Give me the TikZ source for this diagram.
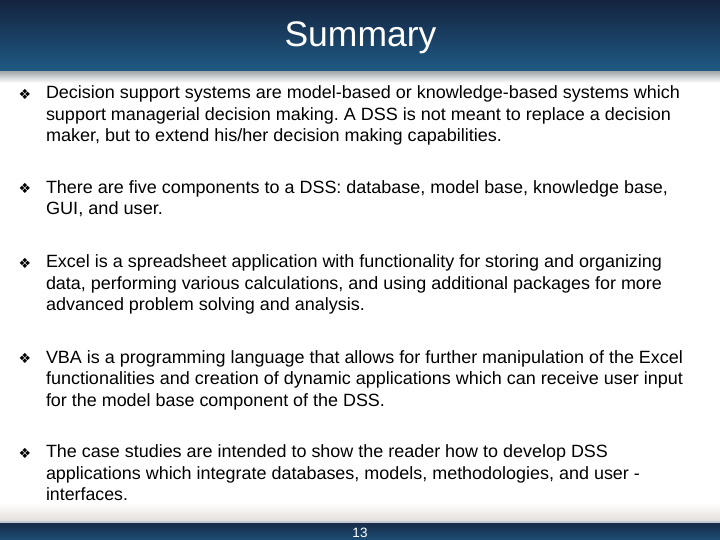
\documentclass[tikz,border=0pt]{standalone}
\usepackage{graphicx}
\usepackage{fontspec}
\setmainfont{Liberation Sans}
\newfontfamily\symfont{DejaVu Sans}
\definecolor{bandtop}{HTML}{14233F}
\definecolor{bandlow}{HTML}{1F5B85}
\definecolor{edgegray}{HTML}{A9ADB0}
\definecolor{footbeige}{HTML}{E3DFDB}
\definecolor{footline}{HTML}{C5CBD6}
\definecolor{foottop}{HTML}{182C48}
\definecolor{footlow}{HTML}{1C4E76}
\newcommand{\fitline}[2]{\resizebox{#1pt}{\height}{#2}}
\tikzset{
  x=1pt,y=-1pt,
  textline/.style={anchor=base west,inner sep=0pt,outer sep=0pt,
    font=\frenchspacing\fontsize{17.76}{21.5}\selectfont,text=black},
  bul/.style={anchor=center,inner sep=0pt,font=\symfont\fontsize{14}{14}\selectfont,text=black},
  band/.style={draw=none}
}
\begin{document}
\begin{tikzpicture}
\useasboundingbox (0,0) rectangle (720,540);
\fill[white] (0,0) rectangle (720,540);
\shade[band,top color=bandtop,bottom color=bandlow] (0,0) rectangle (720,72);
\shade[band,top color=edgegray,bottom color=white] (0,72) rectangle (720,83);
\shade[band,top color=white,bottom color=footbeige] (0,503) rectangle (720,521);
\fill[footline] (0,521) rectangle (720,523);
\shade[band,top color=foottop,bottom color=footlow] (0,523) rectangle (720,540);
\node[anchor=base,inner sep=0pt,text=white,font=\fontsize{35.5}{40}\selectfont] (title) at (360.5,47) {Summary};
\node[textline] (p1a) at (46,99) {\fitline{634}{Decision support systems are model-based or knowledge-based systems which}};
\node[textline] (p1b) at (46,120.5) {\fitline{625}{support managerial decision making. A DSS is not meant to replace a decision}};
\node[textline] (p1c) at (46,142) {\fitline{456}{maker, but to extend his/her decision making capabilities.}};
\node[textline] (p2a) at (46,193.5) {\fitline{622}{There are five components to a DSS: database, model base, knowledge base,}};
\node[textline] (p2b) at (46,215) {\fitline{117}{GUI, and user.}};
\node[textline] (p3a) at (46,267.5) {\fitline{616}{Excel is a spreadsheet application with functionality for storing and organizing}};
\node[textline] (p3b) at (46,289) {\fitline{616}{data, performing various calculations, and using additional packages for more}};
\node[textline] (p3c) at (46,310.5) {\fitline{319}{advanced problem solving and analysis.}};
\node[textline] (p4a) at (46,363) {\fitline{637}{VBA is a programming language that allows for further manipulation of the Excel}};
\node[textline] (p4b) at (46,384.5) {\fitline{637}{functionalities and creation of dynamic applications which can receive user input}};
\node[textline] (p4c) at (46,406) {\fitline{339}{for the model base component of the DSS.}};
\node[textline] (p5a) at (46,457.5) {\fitline{562}{The case studies are intended to show the reader how to develop DSS}};
\node[textline] (p5b) at (46,479) {\fitline{594}{applications which integrate databases, models, methodologies, and user -}};
\node[textline] (p5c) at (46,500.5) {\fitline{82}{interfaces.}};
\node[bul] (b1) at (25,94) {❖};
\node[bul] (b2) at (25,188) {❖};
\node[bul] (b3) at (25,263) {❖};
\node[bul] (b4) at (25,358) {❖};
\node[bul] (b5) at (25,453) {❖};
\node[anchor=base,inner sep=0pt,text=white,font=\fontsize{13.5}{14}\selectfont] (page) at (360,537) {13};
\end{tikzpicture}
\end{document}
